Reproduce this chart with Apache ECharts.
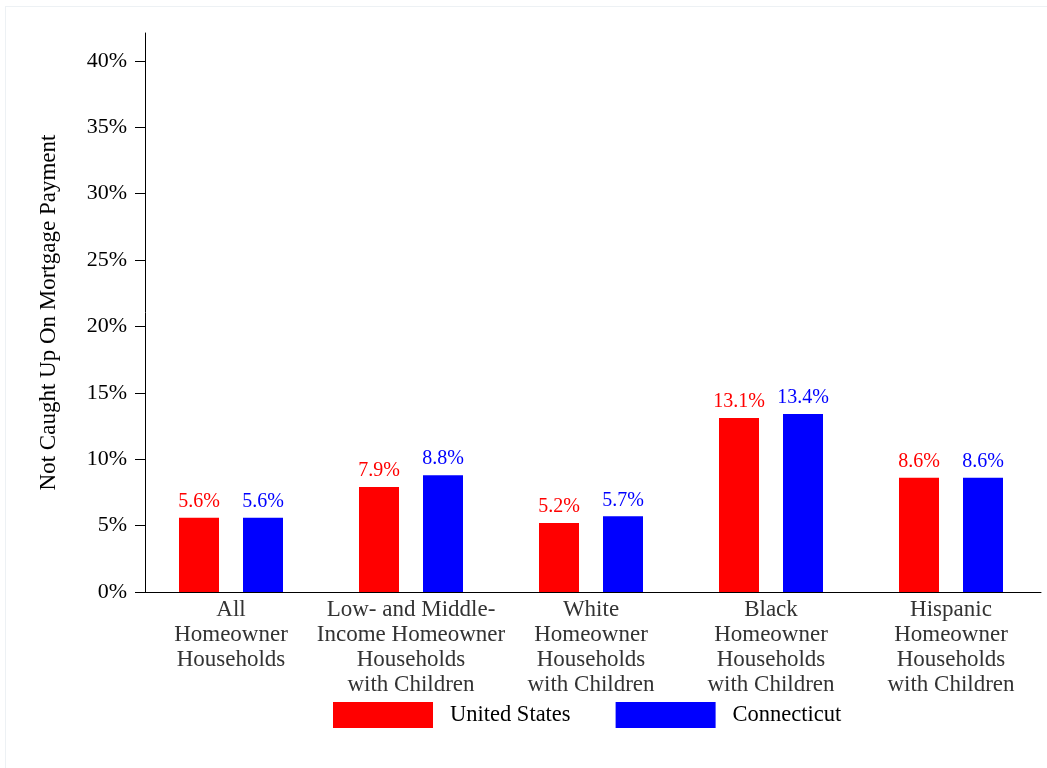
<!DOCTYPE html>
<html><head><meta charset="utf-8">
<script src="https://cdn.jsdelivr.net/npm/echarts@6/dist/echarts.min.js"></script>
<style>
html,body{margin:0;padding:0;background:#fff;}
#frame{position:absolute;left:5px;top:6px;width:1042px;height:762px;border-left:1px solid #edf1f4;border-top:1px solid #edf1f4;box-sizing:border-box;}
#chart{position:absolute;left:0;top:0;width:1047px;height:768px;}
</style></head>
<body>
<div id="frame"></div>
<div id="chart"></div>
<script>
var categories = ["All\nHomeowner\nHouseholds", "Low- and Middle-\nIncome Homeowner\nHouseholds\nwith Children", "White\nHomeowner\nHouseholds\nwith Children", "Black\nHomeowner\nHouseholds\nwith Children", "Hispanic\nHomeowner\nHouseholds\nwith Children"];
var seriesNames = ["United States", "Connecticut"];
var usValues = [5.6, 7.9, 5.2, 13.1, 8.6];
var ctValues = [5.6, 8.8, 5.7, 13.4, 8.6];
var yTicks = [0, 5, 10, 15, 20, 25, 30, 35, 40];
var yAxisTitle = "Not Caught Up On Mortgage Payment";

var font = "'Liberation Serif', 'Times New Roman', serif";
var chart = echarts.init(document.getElementById('chart'), null, {renderer: 'canvas'});
function barSeries(name, data, color) {
  return {
    name: name, type: 'bar', data: data,
    barWidth: 40, barGap: '60%',
    itemStyle: {color: color},
    label: {show: true, position: 'top', distance: 6, color: color, fontFamily: font, fontSize: 20,
      formatter: function (p) { return p.value.toFixed(1) + '%'; }}
  };
}
chart.setOption({
  animation: false,
  backgroundColor: 'transparent',
  textStyle: {fontFamily: font},
  grid: {left: 141, width: 900, top: 33, bottom: 176},
  legend: {
    data: seriesNames, top: 702, left: 333, padding: 0,
    itemWidth: 100, itemHeight: 26, itemGap: 45,
    icon: 'rect',
    textStyle: {fontFamily: font, fontSize: 22.5, color: '#000', padding: [0, 0, 0, 12]}
  },
  xAxis: {
    type: 'category', data: categories,
    axisLine: {lineStyle: {color: '#000', width: 1}},
    axisTick: {show: false},
    axisLabel: {fontFamily: font, fontSize: 23, color: '#333', lineHeight: 25, margin: 5, interval: 0}
  },
  yAxis: {
    type: 'value', min: 0, max: 42.1, interval: 5, offset: -4,
    name: yAxisTitle, nameLocation: 'middle', nameGap: 85, nameRotate: 90,
    nameTextStyle: {fontFamily: font, fontSize: 23, color: '#000'},
    splitLine: {show: false},
    axisLine: {show: true, lineStyle: {color: '#000', width: 1}},
    axisTick: {show: true, length: 10, lineStyle: {color: '#000'}, customValues: yTicks},
    axisLabel: {fontFamily: font, fontSize: 22, color: '#000', margin: 18, customValues: yTicks,
      formatter: function (v) { return v + '%'; }}
  },
  series: [barSeries(seriesNames[0], usValues, '#ff0000'), barSeries(seriesNames[1], ctValues, '#0000ff')]
});
</script>
</body></html>
